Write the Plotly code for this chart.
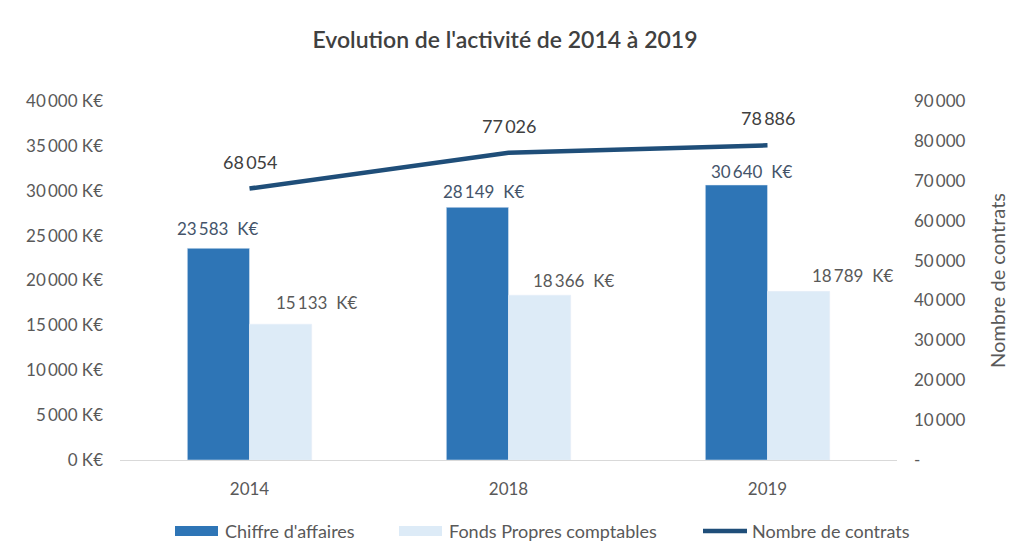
import plotly.graph_objects as go

years = ["2014", "2018", "2019"]
chiffre = [23583, 28149, 30640]
fonds = [15133, 18366, 18789]
contrats = [68054, 77026, 78886]
left_ticks = [0, 5000, 10000, 15000, 20000, 25000, 30000, 35000, 40000]
right_ticks = [0, 10000, 20000, 30000, 40000, 50000, 60000, 70000, 80000, 90000]

# label placement (pixel offsets, styling only)
dark_dx, dark_dy = [-1, 6, 15], [20, 16, 14]
light_dx, light_dy = [36, 34, 54], [22, 15, 16]

NS = "\u2009"
def fmt(v):
    return f"{v:,}".replace(",", NS)

FONT = "Lato"
C_DARK, C_LIGHT, C_LINE = "#2E75B6", "#DDEBF7", "#1F4E79"
GREY = "#595959"
BARGAP = 0.52
half = (1 - BARGAP) / 4  # offset of each bar centre from the category centre

fig = go.Figure()
fig.add_trace(go.Bar(x=years, y=chiffre, name="Chiffre d'affaires",
                     marker=dict(color=C_DARK), showlegend=False))
fig.add_trace(go.Bar(x=years, y=fonds, name="Fonds Propres comptables",
                     marker=dict(color=C_LIGHT), showlegend=False))
fig.add_trace(go.Scatter(x=years, y=contrats, name="Nombre de contrats", yaxis="y2",
                         mode="lines", line=dict(color=C_LINE, width=4.5),
                         showlegend=False))

for i, v in enumerate(chiffre):
    fig.add_annotation(x=i - half, y=v, xref="x", yref="y", text=fmt(v) + "\u00a0\u00a0K€",
                       showarrow=False, xshift=dark_dx[i], yshift=dark_dy[i], yanchor="middle",
                       font=dict(color="#44546A", size=17, family=FONT))
for i, v in enumerate(fonds):
    fig.add_annotation(x=i + half, y=v, xref="x", yref="y", text=fmt(v) + "\u00a0\u00a0K€",
                       showarrow=False, xshift=light_dx[i], yshift=light_dy[i], yanchor="middle",
                       font=dict(color=GREY, size=17, family=FONT))
for i, v in enumerate(contrats):
    fig.add_annotation(x=i, y=v, xref="x", yref="y2", text=fmt(v),
                       showarrow=False, yshift=27, yanchor="middle",
                       font=dict(color="#404040", size=18, family=FONT))

# custom legend (plot-area paper coordinates: plot spans x 120..897, y 101..460 px)
L, W, B, H = 120, 777, 460, 359
def px(x):
    return (x - L) / W
def py(y):
    return (B - y) / H

legend_y = 531
fig.add_shape(type="rect", xref="paper", yref="paper", x0=px(175), x1=px(218),
              y0=py(legend_y - 5), y1=py(legend_y + 5), fillcolor=C_DARK, line=dict(width=0))
fig.add_shape(type="rect", xref="paper", yref="paper", x0=px(399), x1=px(442),
              y0=py(legend_y - 5), y1=py(legend_y + 5), fillcolor=C_LIGHT, line=dict(width=0))
fig.add_shape(type="line", xref="paper", yref="paper", x0=px(703), x1=px(747),
              y0=py(legend_y), y1=py(legend_y), line=dict(color=C_LINE, width=4.5))
for xt, t in [(223, "Chiffre d'affaires"), (447, "Fonds Propres comptables"),
              (750, "Nombre de contrats")]:
    fig.add_annotation(x=px(xt), y=py(legend_y), xref="paper", yref="paper", text=t,
                       showarrow=False, xanchor="left", yanchor="middle",
                       font=dict(size=18, color=GREY, family=FONT))

fig.update_layout(
    width=1010, height=542,
    paper_bgcolor="white", plot_bgcolor="white",
    margin=dict(l=120, r=113, t=101, b=82),
    title=dict(text="Evolution de l'activité de 2014 à 2019", x=0.5, xanchor="center",
               yref="container", y=0.926, yanchor="middle",
               font=dict(family=FONT, size=23, color="#404040", weight=600)),
    barmode="group", bargap=BARGAP, bargroupgap=0,
    font=dict(family=FONT, color=GREY, size=17),
    showlegend=False,
    xaxis=dict(type="category", showgrid=False, showline=True, linecolor="#D9D9D9",
               linewidth=1, ticks="", range=[-0.5, len(years) - 0.5],
               ticklabelstandoff=14, automargin=False,
               tickfont=dict(size=17, color=GREY)),
    yaxis=dict(range=[0, 40000], tickvals=left_ticks,
               ticktext=[fmt(v) + " K€" for v in left_ticks],
               showgrid=False, zeroline=False, ticks="", showline=False,
               ticklabelstandoff=16, automargin=False,
               tickfont=dict(size=17, color=GREY)),
    yaxis2=dict(range=[0, 90000], overlaying="y", side="right",
                tickvals=right_ticks,
                ticktext=["-"] + [fmt(v) for v in right_ticks[1:]],
                showgrid=False, zeroline=False, ticks="", showline=False,
                ticklabelstandoff=16, automargin=False,
                tickfont=dict(size=17, color=GREY),
                title=dict(text="Nombre de contrats", font=dict(size=20, color=GREY),
                           standoff=26)),
)
fig.write_html("out.html", config={"displayModeBar": False},
               post_script="document.body.style.margin='0';document.body.style.overflow='hidden';")
